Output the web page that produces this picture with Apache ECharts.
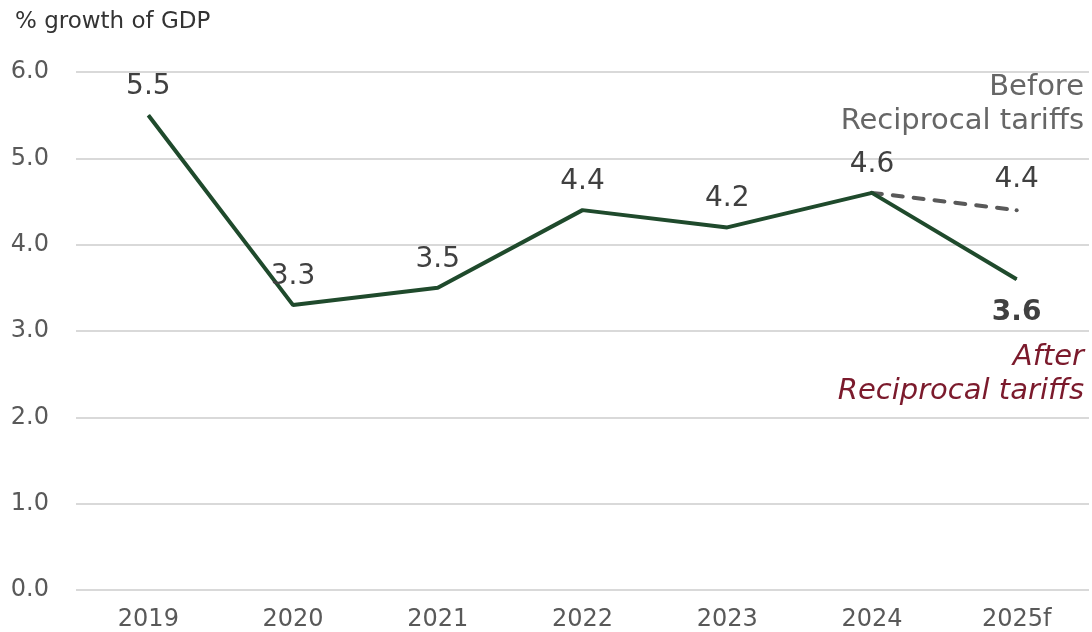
<!DOCTYPE html>
<html lang="en">
<head>
    <meta charset="UTF-8">
    <title>GDP growth</title>
    <script src="https://cdn.jsdelivr.net/npm/echarts@6/dist/echarts.min.js"></script>
    <style>
        body {
            margin: 0;
            padding: 0;
            background-color: #ffffff;
            overflow: hidden;
        }
        #chart {
            width: 1092px;
            height: 632px;
        }
    </style>
</head>
<body>
<div id="chart"></div>

<script>
    // data
    const years = ['2019', '2020', '2021', '2022', '2023', '2024', '2025f'];
    const afterTariffs = [5.5, 3.3, 3.5, 4.4, 4.2, 4.6, 3.6];
    const beforeTariffs = [null, null, null, null, null, 4.6, 4.4];
    const yTicks = [0, 1, 2, 3, 4, 5, 6];

    const FONT = 'DejaVu Sans, Verdana, sans-serif';
    const chart = echarts.init(document.getElementById('chart'));

    // last point of the main line is bold and sits under the line
    const afterData = afterTariffs.map((v, i) => {
        if (i === afterTariffs.length - 1) {
            return {
                value: v,
                label: { position: 'bottom', distance: 19, fontWeight: 'bold' }
            };
        }
        return v;
    });

    // only the forecast point of the dashed line gets a label
    const beforeData = beforeTariffs.map((v, i) => {
        if (v === null) return null;
        return {
            value: v,
            label: { show: i === beforeTariffs.length - 1 }
        };
    });

    const valueLabel = {
        show: true,
        position: 'top',
        distance: 14,
        color: '#404040',
        fontSize: 28,
        fontFamily: FONT,
        formatter: p => p.value.toFixed(1)
    };

    const option = {
        backgroundColor: '#ffffff',
        animation: false,
        grid: {
            left: 76,
            right: 3,
            top: 72,
            bottom: 42
        },
        xAxis: {
            type: 'category',
            data: years,
            boundaryGap: true,
            axisLine: { show: false },
            axisTick: { show: false },
            axisLabel: {
                color: '#595959',
                fontSize: 24,
                fontFamily: FONT,
                margin: 18
            }
        },
        yAxis: {
            type: 'value',
            min: yTicks[0],
            max: yTicks[yTicks.length - 1],
            interval: 1,
            axisLine: { show: false },
            axisTick: { show: false },
            splitLine: { lineStyle: { color: '#d9d9d9', width: 2 } },
            axisLabel: {
                color: '#595959',
                fontSize: 24,
                fontFamily: FONT,
                margin: 27,
                formatter: v => v.toFixed(1)
            }
        },
        series: [
            {
                name: 'Before Reciprocal tariffs',
                type: 'line',
                data: beforeData,
                symbol: 'circle',
                symbolSize: 4,
                itemStyle: { color: '#595959' },
                z: 2,
                lineStyle: { color: '#595959', width: 4, type: [10, 11], cap: 'round' },
                label: valueLabel
            },
            {
                name: 'After Reciprocal tariffs',
                type: 'line',
                data: afterData,
                symbol: 'circle',
                symbolSize: 1,
                itemStyle: { color: '#1f4a2c' },
                z: 3,
                lineStyle: { color: '#1f4a2c', width: 4 },
                label: valueLabel
            }
        ],
        graphic: [
            {
                type: 'text',
                left: 15,
                top: 11,
                style: {
                    text: '% growth of GDP',
                    fill: '#333333',
                    fontSize: 23,
                    fontFamily: FONT
                }
            },
            {
                type: 'text',
                right: 8,
                top: 70,
                style: {
                    text: 'Before\nReciprocal tariffs',
                    align: 'right',
                    textAlign: 'right',
                    fill: '#666666',
                    fontSize: 29,
                    lineHeight: 34,
                    fontFamily: FONT
                }
            },
            {
                type: 'text',
                right: 8,
                top: 340,
                style: {
                    text: 'After\nReciprocal tariffs',
                    align: 'right',
                    textAlign: 'right',
                    fill: '#7b1a2c',
                    fontSize: 29,
                    lineHeight: 34,
                    fontStyle: 'italic',
                    fontFamily: FONT
                }
            }
        ]
    };

    chart.setOption(option);
</script>
</body>
</html>
